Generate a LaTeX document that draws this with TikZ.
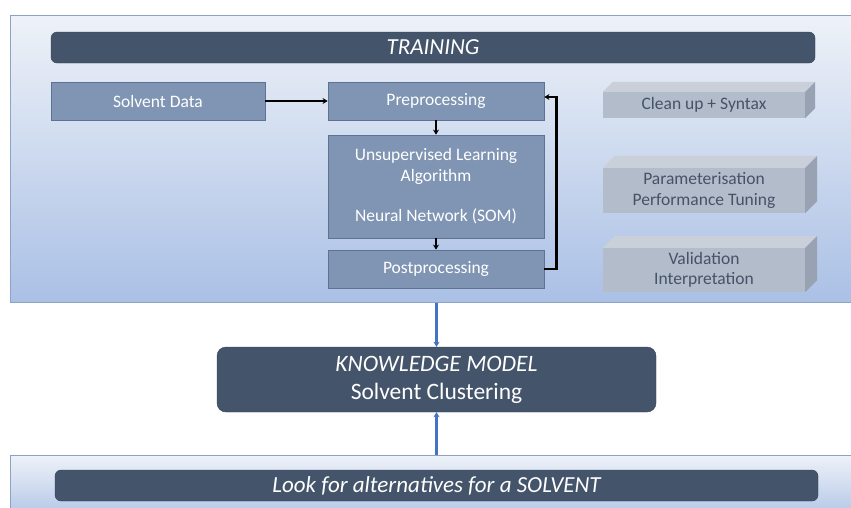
\documentclass[tikz,border=0pt]{standalone}
\usepackage{fontspec}
\setmainfont{Carlito}
\usetikzlibrary{arrows.meta,positioning}
\definecolor{darkbar}{HTML}{44546A}
\definecolor{boxfill}{HTML}{8095B3}
\definecolor{boxdraw}{HTML}{5E7393}
\definecolor{paneltop}{HTML}{EEF2F8}
\definecolor{panelbot}{HTML}{AAC0E5}
\definecolor{paneldraw}{HTML}{8DA3C6}
\definecolor{grayfront}{HTML}{B3BCCA}
\definecolor{graytop}{HTML}{C9D0DA}
\definecolor{grayside}{HTML}{98A2B2}
\definecolor{graytext}{HTML}{465266}
\definecolor{bluearr}{HTML}{4472C4}
\tikzset{
  panel/.style={draw=paneldraw, line width=1pt, top color=paneltop, bottom color=panelbot, minimum width=850pt, inner sep=0pt},
  bar/.style={fill=darkbar, draw=darkbar!80!black, rounded corners=6pt, text=white, font=\itshape\fontsize{23}{26}\selectfont, inner sep=0pt},
  procbox/.style={fill=boxfill, draw=boxdraw, line width=0.8pt, text=white, minimum width=216pt, font=\fontsize{17.5}{21}\selectfont, align=center, inner sep=0pt},
  grayfront/.style={fill=grayfront, draw=none, text=graytext, minimum width=202pt, font=\fontsize{17.5}{20.5}\selectfont, align=center, inner sep=0pt},
  blk/.style={line width=2.2pt, -{Stealth[length=5pt,width=6pt]}},
  blu/.style={line width=2.6pt, draw=bluearr, -{Stealth[length=5pt,width=6pt]}, bluearr},
}
\begin{document}
\begin{tikzpicture}[x=1pt,y=-1pt]
\useasboundingbox (0,0) rectangle (851,507);
\fill[white] (0,0) rectangle (851,507);
% panels
\node[panel, minimum height=287pt] (train) at (435,158.5) {};
\node[panel, minimum height=70pt] (lookp) at (435,490) {};
% bars
\node[bar, minimum width=764pt, minimum height=31pt] (trainbar) at (433,47.5) {TRAINING};
\node[bar, minimum width=763pt, minimum height=31pt] (lookbar) at (436.5,485.5) {Look for alternatives for a SOLVENT};
\node[bar, minimum width=439pt, minimum height=65pt, rounded corners=9pt, align=center, font=\fontsize{23.5}{28}\selectfont] (km) at (436.5,379.5) {\textit{KNOWLEDGE MODEL}\\Solvent Clustering};
% process boxes
\node[procbox, minimum width=214pt, minimum height=38pt] (sd) at (158,101) {Solvent Data};
\node[procbox, minimum height=38pt] (pre) at (436,101) {Preprocessing};
\node[procbox, minimum height=103pt] (uns) at (436,186.5) {Unsupervised Learning\\Algorithm\\[19pt]Neural Network (SOM)};
\node[procbox, minimum height=38pt] (post) at (436,269) {Postprocessing};
% connectors
\draw[blk] (sd.east) -- (pre.west);
\draw[blk] (pre.south) -- (uns.north);
\draw[blk] (uns.south) -- (post.north);
\draw[blk] (post.east) -- ++(12,0) |- ([yshift=4pt]pre.east);
\draw[blu] (train.south -| km.north) -- (km.north);
\draw[blu] (lookp.north -| km.south) -- (km.south);
% gray 3D boxes
\node[grayfront, minimum height=26pt] (cu) at (704,105) {Clean up + Syntax};
\node[grayfront, minimum height=45pt] (pt) at (704,190.5) {Parameterisation\\Performance Tuning};
\node[grayfront, minimum height=44pt] (vi) at (704,270) {Validation\\Interpretation};
\foreach \b/\d in {cu/10,pt/12,vi/12}{
  \fill[graytop] (\b.north west) -- ++(\d,-\d) -- ([shift={(\d pt,\d pt)}]\b.north east) -- (\b.north east) -- cycle;
  \fill[grayside] (\b.north east) -- ++(\d,-\d) -- ([shift={(\d pt,\d pt)}]\b.south east) -- (\b.south east) -- cycle;
}
\end{tikzpicture}
\end{document}
